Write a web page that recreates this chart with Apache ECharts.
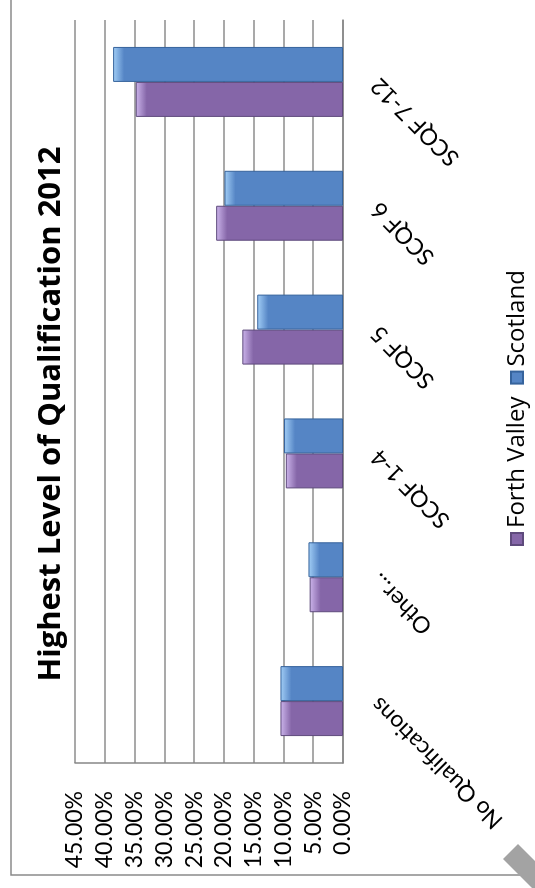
<!DOCTYPE html>
<html>
<head>
<meta charset="utf-8">
<script src="https://cdn.jsdelivr.net/npm/echarts@6/dist/echarts.min.js"></script>
<style>
  html, body { margin: 0; padding: 0; width: 535px; height: 888px; overflow: hidden; background: #fff; }
  /* The column chart is laid out landscape and turned a quarter turn anticlockwise onto the portrait page. */
  #chart {
    position: absolute; left: 0; top: 0;
    width: 888px; height: 535px;
    transform-origin: 0 0;
    transform: translate(0, 888px) rotate(-90deg);
  }
</style>
</head>
<body>
<div id="chart"></div>
<script>
// Highest level of qualification, 2012 (share of population, %)
const categories = ['No Qualifications', 'Other...', 'SCQF 1-4', 'SCQF 5', 'SCQF 6', 'SCQF 7-12'];
const forthValley = [10.5, 5.6, 9.6, 16.9, 21.3, 34.8];
const scotland = [10.5, 5.8, 9.9, 14.4, 19.9, 38.6];
const valueTicks = [0, 5, 10, 15, 20, 25, 30, 35, 40, 45];

const FONT = 'Lato, "Open Sans", sans-serif';
const WIDE_FONT = '"Open Sans", Lato, sans-serif';
const GRID = { left: 125, right: 20, top: 75, bottom: 192 };
const PLOT_H = 535 - GRID.top - GRID.bottom;
const AXIS_MAX = valueTicks[valueTicks.length - 1];

// Bevelled column fill: a light wedge at the top end fading into the body colour.
function bevel(value, light, main) {
  const len = value / AXIS_MAX * PLOT_H;
  const f = Math.min(0.45, 11 / Math.max(len, 1));
  return {
    type: 'linear', x: 0, y: 0, x2: 0, y2: 1,
    colorStops: [
      { offset: 0, color: light },
      { offset: f, color: main },
      { offset: 1, color: main }
    ]
  };
}

function seriesData(values, light, main) {
  return values.map(v => ({ value: v, itemStyle: { color: bevel(v, light, main) } }));
}

const chart = echarts.init(document.getElementById('chart'), null, { renderer: 'canvas' });

chart.setOption({
  backgroundColor: '#ffffff',
  animation: false,
  title: {
    text: 'Highest Level of Qualification 2012',
    left: 469,
    top: 31,
    textAlign: 'center',
    textStyle: { fontFamily: WIDE_FONT, fontWeight: 'bold', fontSize: 31, color: '#000' }
  },
  legend: {
    left: 337,
    top: 500,
    icon: 'rect',
    itemWidth: 12,
    itemHeight: 12,
    itemGap: 12,
    textStyle: { fontFamily: WIDE_FONT, fontSize: 24, color: '#000' },
    data: ['Forth Valley', 'Scotland']
  },
  grid: GRID,
  xAxis: {
    type: 'category',
    data: categories,
    axisLine: { show: true, lineStyle: { color: '#868686', width: 1.5 } },
    axisTick: { show: false },
    axisLabel: {
      rotate: 45,
      margin: 32,
      fontFamily: FONT,
      fontSize: 23,
      color: '#000',
      interval: 0
    }
  },
  yAxis: {
    type: 'value',
    min: valueTicks[0],
    max: AXIS_MAX,
    interval: valueTicks[1] - valueTicks[0],
    axisLine: { show: true, lineStyle: { color: '#868686', width: 1.5 } },
    axisTick: { show: false },
    splitLine: { show: true, lineStyle: { color: '#8c8c8c', width: 1.5 } },
    axisLabel: {
      margin: 28,
      fontFamily: FONT,
      fontSize: 23,
      color: '#000',
      formatter: v => v.toFixed(2) + '%'
    }
  },
  series: [
    {
      name: 'Forth Valley',
      type: 'bar',
      barGap: '0%',
      barCategoryGap: '43.5%',
      color: '#8566a8',
      itemStyle: { borderColor: '#5e4a7c', borderWidth: 1 },
      data: seriesData(forthValley, '#cdb6ec', '#8566a8')
    },
    {
      name: 'Scotland',
      type: 'bar',
      barGap: '0%',
      barCategoryGap: '43.5%',
      color: '#5585c5',
      itemStyle: { borderColor: '#36639c', borderWidth: 1 },
      data: seriesData(scotland, '#a3cff7', '#5585c5')
    }
  ],
  graphic: [
    {
      type: 'rect',
      silent: true,
      shape: { x: 13, y: 11, width: 1000, height: 700 },
      style: { fill: null, stroke: '#8a8a8a', lineWidth: 1.5 }
    },
    {
      type: 'polygon',
      silent: true,
      shape: { points: [[44, 518], [29, 503], [-15, 547], [0, 562]] },
      style: { fill: '#a3a3a3' }
    }
  ]
});
</script>
</body>
</html>
